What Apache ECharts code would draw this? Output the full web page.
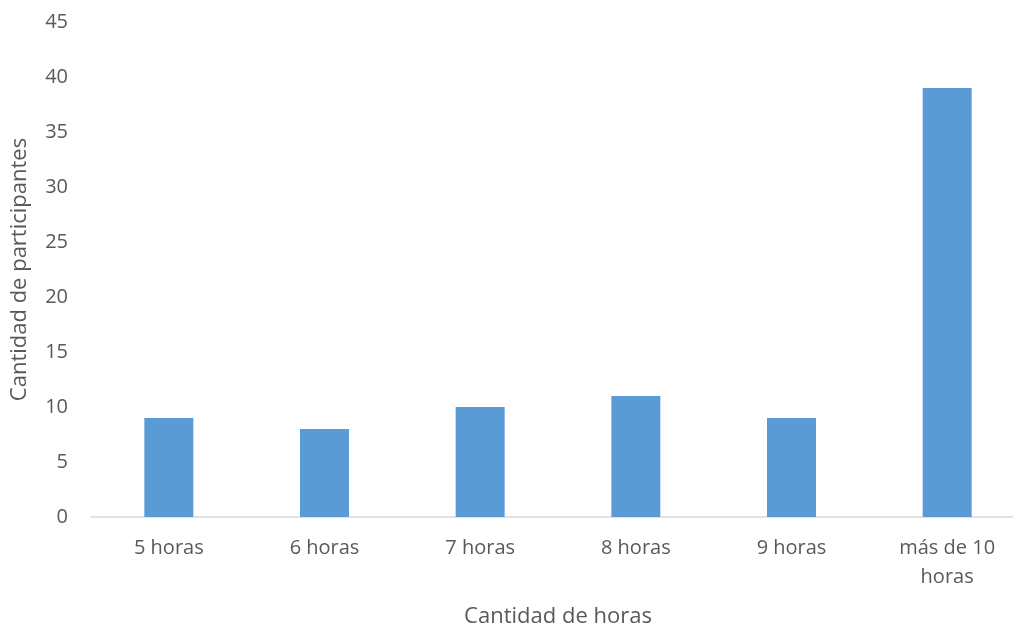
<!DOCTYPE html>
<html>
<head>
<meta charset="utf-8">
<script src="https://cdn.jsdelivr.net/npm/echarts@6/dist/echarts.min.js"></script>
<style>
  html, body { margin: 0; padding: 0; background: #ffffff; }
  #chart { width: 1013px; height: 626px; }
</style>
</head>
<body>
<div id="chart"></div>
<script>
// Horas por categoría y número de participantes
const categories = ['5 horas', '6 horas', '7 horas', '8 horas', '9 horas', 'más de 10\nhoras'];
const participantes = [9, 8, 10, 11, 9, 39];
const yMin = 0;
const yMax = 45;
const yStep = 5;

const textColor = '#595959';
const fontFamily = '"Open Sans", "Noto Sans", sans-serif';

const chart = echarts.init(document.getElementById('chart'), null, { renderer: 'canvas' });
chart.setOption({
  animation: false,
  backgroundColor: '#ffffff',
  grid: { left: 91, top: 22, width: 934, height: 495, containLabel: false, outerBoundsMode: 'none' },
  xAxis: {
    type: 'category',
    data: categories,
    name: 'Cantidad de horas',
    nameLocation: 'middle',
    nameGap: 89,
    nameTextStyle: { color: textColor, fontSize: 22, fontFamily: fontFamily },
    axisLine: { lineStyle: { color: '#d9d9d9', width: 1.5 } },
    axisTick: { show: false },
    axisLabel: { color: textColor, fontSize: 20, fontFamily: fontFamily, margin: 17, lineHeight: 29, interval: 0 }
  },
  yAxis: {
    type: 'value',
    min: yMin,
    max: yMax,
    interval: yStep,
    name: 'Cantidad de participantes',
    nameLocation: 'middle',
    nameGap: 60,
    nameTextStyle: { color: textColor, fontSize: 22, fontFamily: fontFamily },
    axisLine: { show: false },
    axisTick: { show: false },
    splitLine: { show: false },
    axisLabel: { color: textColor, fontSize: 20, fontFamily: fontFamily, margin: 23 }
  },
  series: [{
    type: 'bar',
    data: participantes,
    barWidth: 49,
    itemStyle: { color: '#5b9bd5' }
  }]
});
</script>
</body>
</html>
